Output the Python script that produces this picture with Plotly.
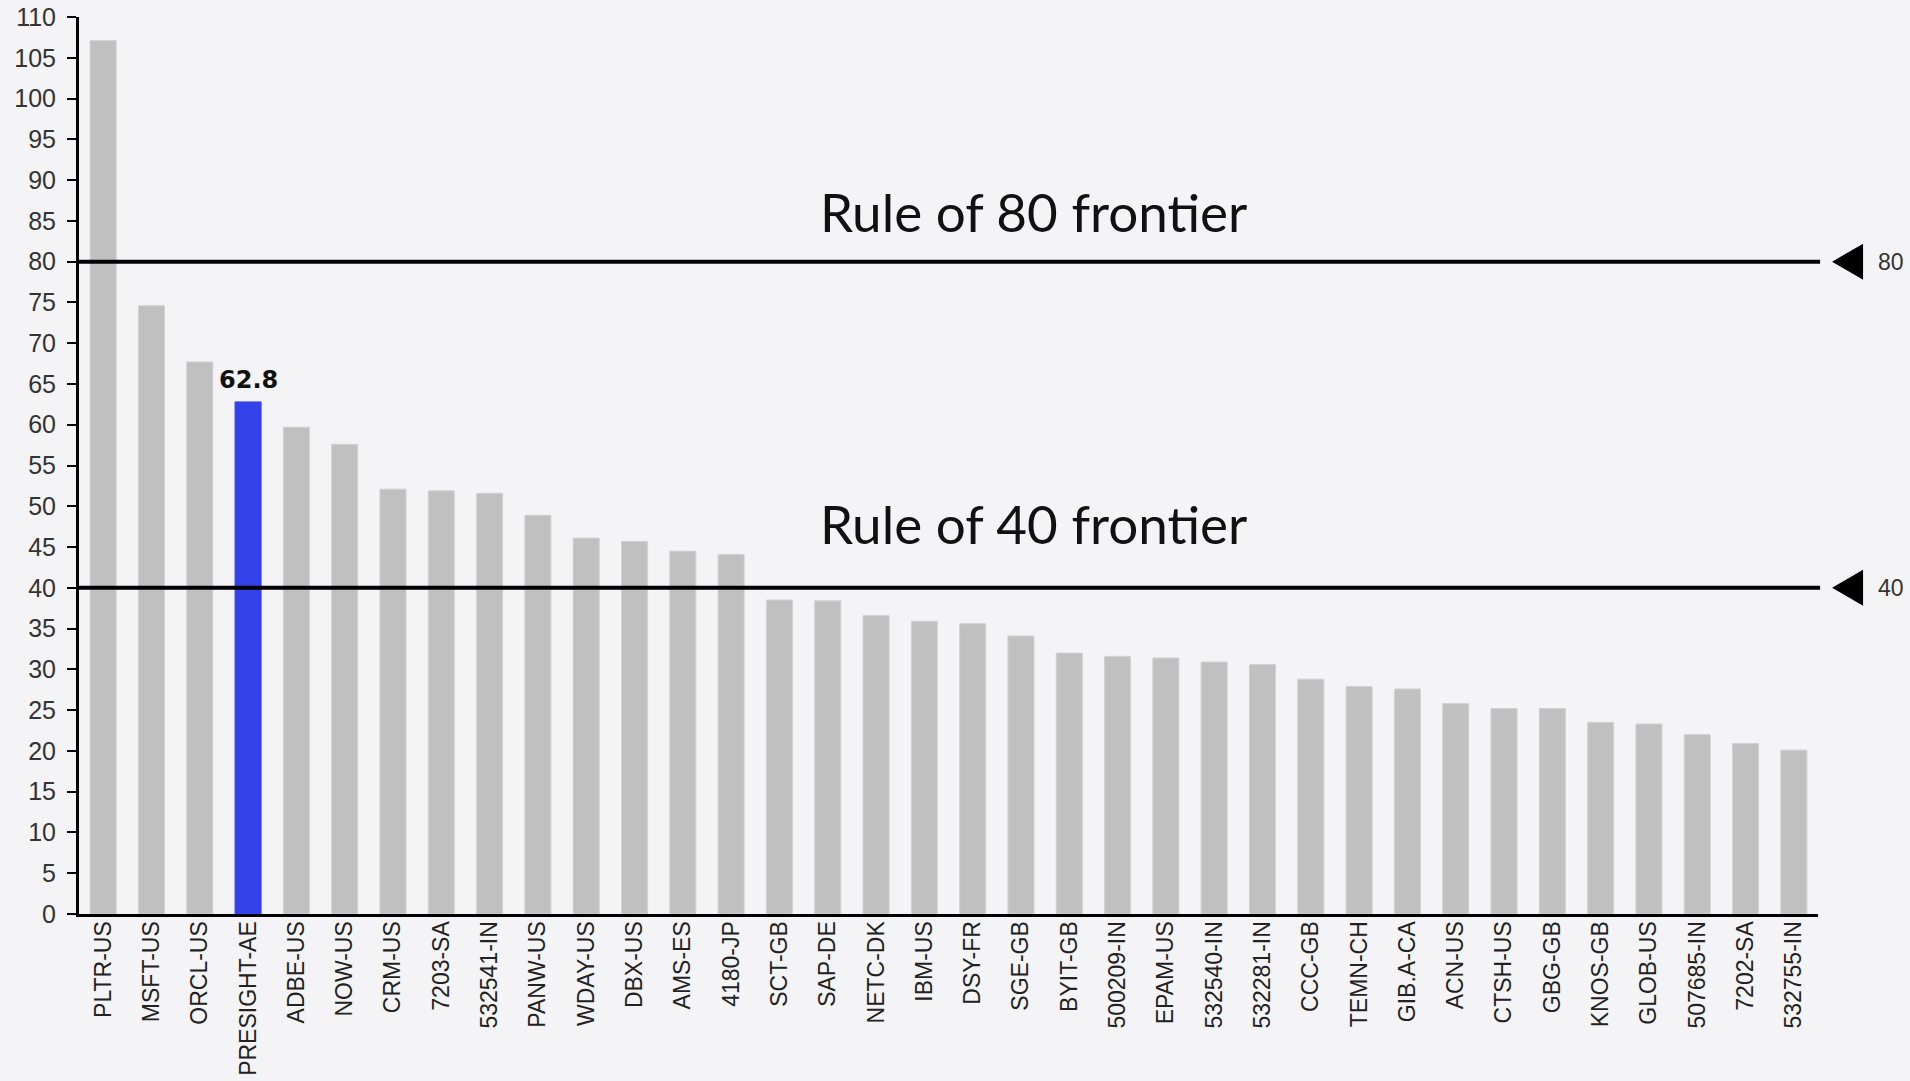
import plotly.graph_objects as go

tickers = ["PLTR-US", "MSFT-US", "ORCL-US", "PRESIGHT-AE", "ADBE-US", "NOW-US", "CRM-US",
           "7203-SA", "532541-IN", "PANW-US", "WDAY-US", "DBX-US", "AMS-ES", "4180-JP",
           "SCT-GB", "SAP-DE", "NETC-DK", "IBM-US", "DSY-FR", "SGE-GB", "BYIT-GB",
           "500209-IN", "EPAM-US", "532540-IN", "532281-IN", "CCC-GB", "TEMN-CH",
           "GIB.A-CA", "ACN-US", "CTSH-US", "GBG-GB", "KNOS-GB", "GLOB-US", "507685-IN",
           "7202-SA", "532755-IN"]
values = [107.1, 74.6, 67.7, 62.8, 59.7, 57.6, 52.1,
          51.9, 51.6, 48.9, 46.1, 45.7, 44.5, 44.1,
          38.5, 38.4, 36.6, 35.9, 35.6, 34.1, 32.0,
          31.6, 31.4, 30.9, 30.6, 28.8, 27.9,
          27.6, 25.8, 25.2, 25.2, 23.5, 23.3, 22.0,
          20.9, 20.1]
highlight = "PRESIGHT-AE"
frontiers = [80, 40]
frontier_titles = ["Rule of 80 frontier", "Rule of 40 frontier"]
title_levels = [86.2, 47.9]
y_ticks = list(range(0, 111, 5))

GREY = "#c0c0c0"
BLUE = "#3341ea"
BG = "#f4f4f7"

colors = [BLUE if t == highlight else GREY for t in tickers]
line_colors = ["#3a48ee" if t == highlight else "#d2d2d4" for t in tickers]

fig = go.Figure()
fig.add_trace(go.Bar(
    x=tickers, y=values,
    marker=dict(color=colors, line=dict(color=line_colors, width=1)),
    hoverinfo="x+y", showlegend=False,
))

for f in frontiers:
    fig.add_shape(type="line", xref="paper", yref="y", x0=0, x1=1.0012, y0=f, y1=f,
                  line=dict(color="black", width=4), layer="above")
    # left-pointing triangle marker beside the frontier line
    fig.add_shape(type="path", xref="paper", yref="y",
                  xsizemode="pixel", ysizemode="pixel",
                  xanchor=1.0196, yanchor=f,
                  path="M -20,0 L 11,18 L 11,-18 Z",
                  fillcolor="black", line=dict(color="black", width=0), layer="above")
    fig.add_annotation(xref="paper", yref="y", x=1.0333, y=f, text=str(f),
                       showarrow=False, xanchor="left", yanchor="middle",
                       font=dict(family="Liberation Sans, Arial", size=23, color="#333333"))

for title, lvl in zip(frontier_titles, title_levels):
    fig.add_annotation(xref="paper", yref="y", x=0.549, y=lvl, text=title,
                       showarrow=False, xanchor="center", yanchor="middle",
                       font=dict(family="Lato, Carlito, Calibri", size=53, color="#111111"))

hv = values[tickers.index(highlight)]
fig.add_annotation(x=highlight, y=hv, text=f"<b>{hv}</b>", showarrow=False,
                   xanchor="center", yanchor="bottom", yshift=6,
                   font=dict(family="DejaVu Sans, Verdana", size=24, color="#111111"))

fig.update_layout(
    width=1910, height=1081,
    margin=dict(l=79, r=92, t=17, b=167),
    paper_bgcolor=BG, plot_bgcolor=BG,
    bargap=0.46,
    xaxis=dict(
        type="category", range=[-0.5, len(tickers) - 0.5],
        showline=True, linecolor="black", linewidth=3,
        showgrid=False, ticks="", tickangle=-90,
        ticklabelstandoff=-5,
        tickfont=dict(family="Liberation Sans, Arial", size=23, color="#222222"),
        automargin=False,
    ),
    yaxis=dict(
        range=[0, 110], tickvals=y_ticks,
        showline=True, linecolor="black", linewidth=3,
        showgrid=False, zeroline=False,
        ticks="outside", ticklen=9, tickwidth=2, tickcolor="black",
        ticklabelstandoff=6,
        tickfont=dict(family="Liberation Sans, Arial", size=25, color="#333333"),
        automargin=False,
    ),
)

fig.write_html("out.html", config={"displayModeBar": False},
               post_script="document.body.style.margin='0px';document.body.style.overflow='hidden';")
